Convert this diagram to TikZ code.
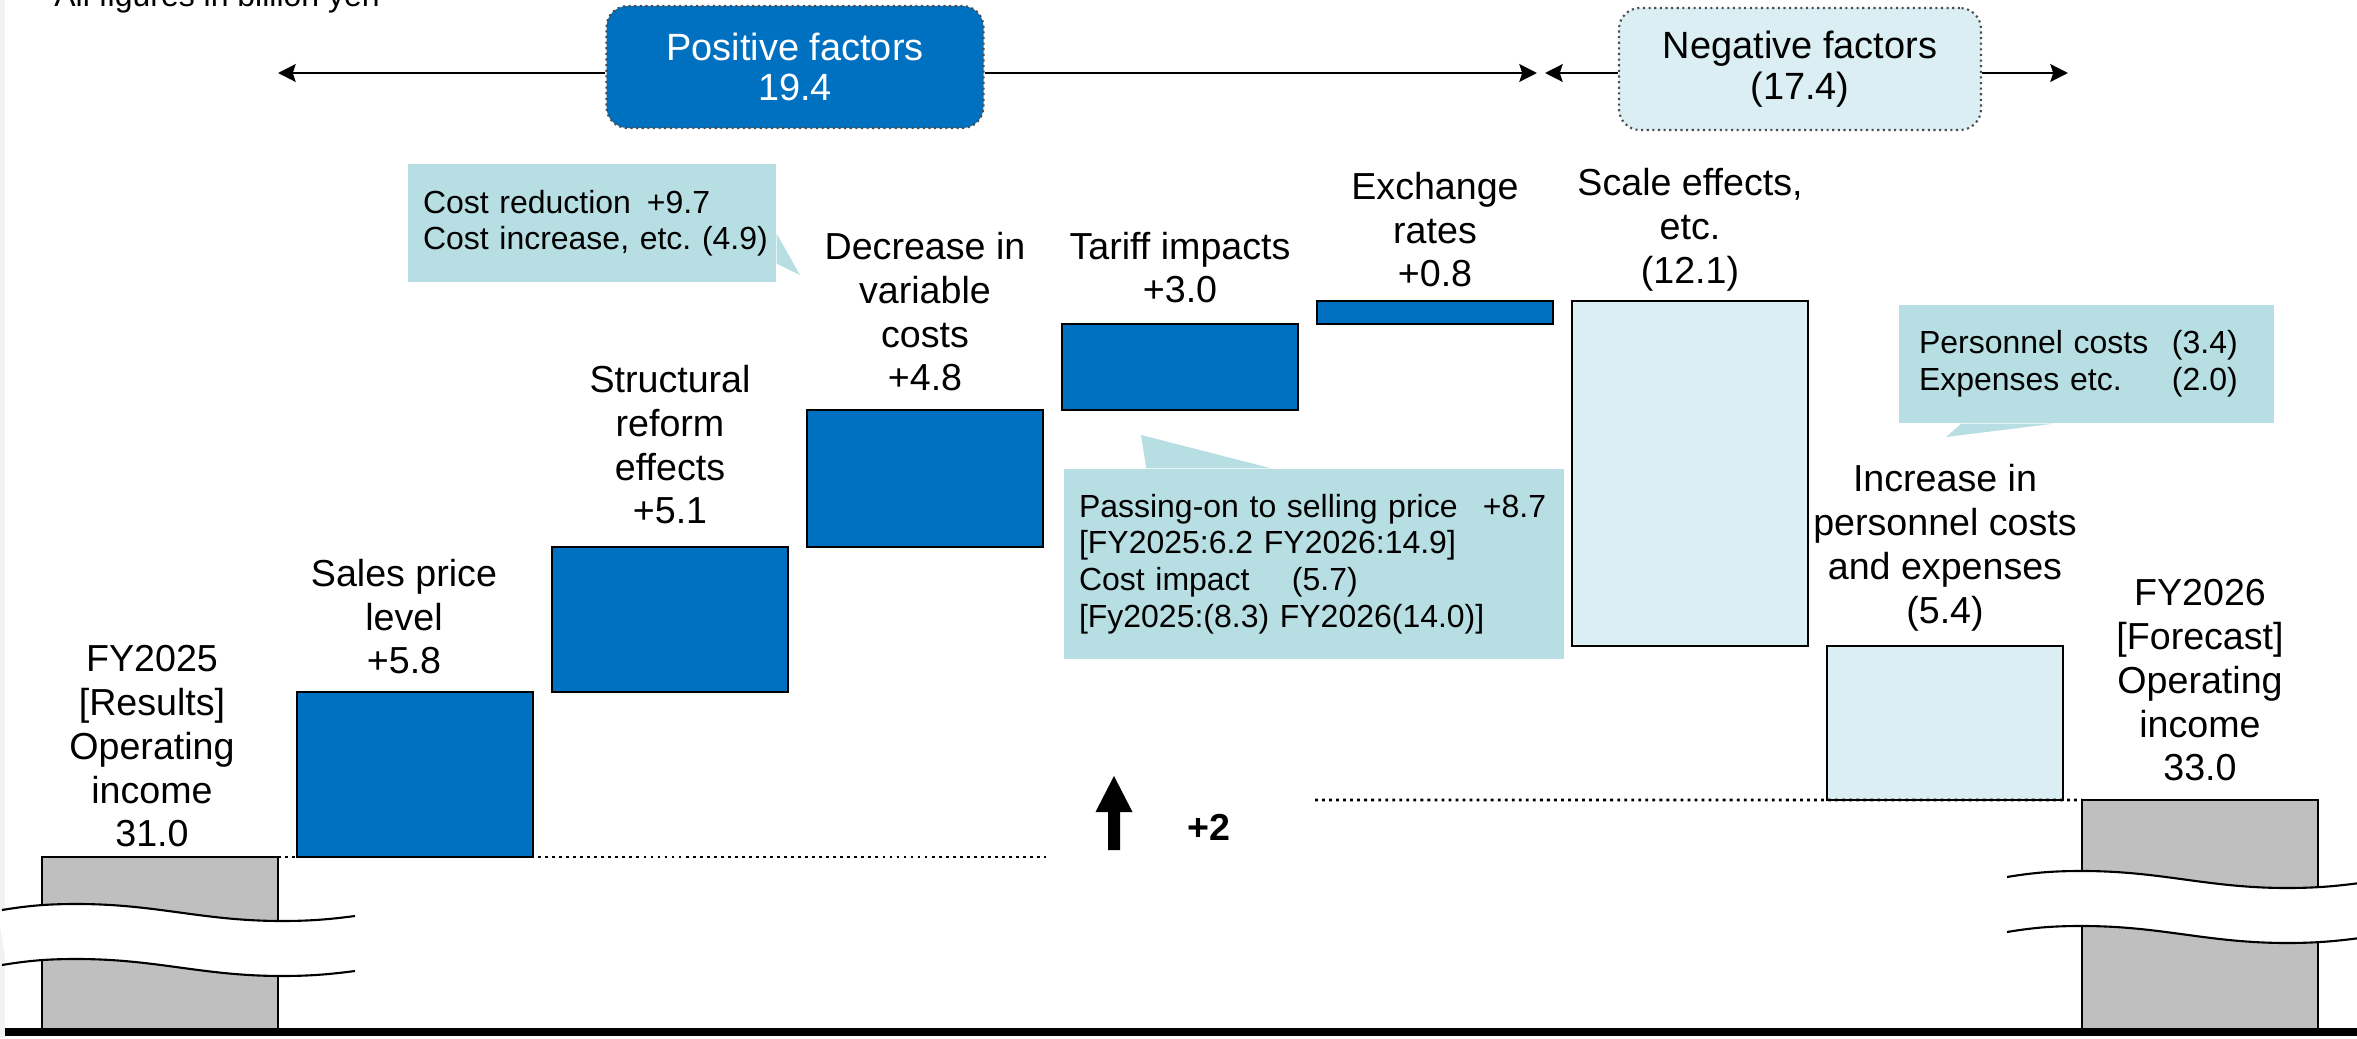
\documentclass[tikz,border=0pt]{standalone}
\usepackage{fontspec}
\setmainfont{Liberation Sans}
\frenchspacing
\usetikzlibrary{arrows.meta,positioning,calc}
\definecolor{BarBlue}{RGB}{0, 112, 192}
\definecolor{PaleBlue}{RGB}{218, 238, 243}
\definecolor{BaseGray}{RGB}{191, 191, 191}
\definecolor{NoteTeal}{RGB}{183, 222, 226}
\definecolor{EdgeGray}{RGB}{242, 242, 242}

% one wavy edge of the axis break, crest at the origin
\newcommand\wavecurve{(-0.75,-0.06) .. controls (-0.45,-0.01) and (-0.25,0) .. (0,0)
  .. controls (0.8,0) and (1.25,-0.17) .. (2.05,-0.17)
  .. controls (2.35,-0.17) and (2.55,-0.15) .. (2.78,-0.12)}

\tikzset{
  gapwave/.pic={
    \draw[white, line width=0.55cm, yshift=-0.275cm] \wavecurve;
    \foreach \dy in {0,-0.55}
      \draw[line width=0.6pt, yshift=\dy cm] \wavecurve;
  }
}

\begin{document}
\begin{tikzpicture}[
    wfbar/.style={draw=black, line width=0.8pt, outer sep=0pt, inner sep=0pt, minimum width=2.36cm},
    posbar/.style={wfbar, fill=BarBlue},
    negbar/.style={wfbar, fill=PaleBlue},
    basebar/.style={wfbar, fill=BaseGray},
    lbl/.style={align=center, inner sep=0pt, font=\fontsize{10.7}{12.5}\selectfont},
    notebox/.style={fill=NoteTeal, align=left, inner xsep=0.15cm, inner ysep=0pt, font=\fontsize{9.1}{10.4}\selectfont},
    factorbox/.style={draw=black!70, densely dotted, line width=0.6pt, rounded corners=6pt, align=center, minimum height=1.22cm, font=\fontsize{10.8}{11.6}\selectfont},
    spanarrow/.style={-{Stealth[length=5pt, width=5pt, inset=0.8pt]}, line width=0.8pt},
    levelline/.style={line width=0.8pt, dash pattern=on 0.8pt off 1.2pt}]

  \useasboundingbox (0,0) rectangle (23.57,10.38);
  \fill[EdgeGray] (0,0) rectangle (0.05,10.38);

  \node[anchor=base west, font=\fontsize{9.1}{10.9}\selectfont] (unit) at (0.42,10.31) {All figures in billion yen};

  % factor totals
  \node[factorbox, fill=BarBlue, text=white, minimum width=3.77cm] (posfac) at (7.95,9.71) {Positive factors\\19.4};
  \node[factorbox, fill=PaleBlue, minimum width=3.62cm] (negfac) at (18.00,9.69) {Negative factors\\(17.4)};

  \coordinate (posL) at (2.78,9.65);
  \coordinate (posR) at (15.37,9.65);
  \coordinate (negL) at (15.45,9.65);
  \coordinate (negR) at (20.68,9.65);
  \draw[spanarrow] (posfac.west |- posL) -- (posL);
  \draw[spanarrow] (posfac.east |- posR) -- (posR);
  \draw[spanarrow] (negfac.west |- negL) -- (negL);
  \draw[spanarrow] (negfac.east |- negR) -- (negR);

  % waterfall bars
  \node[basebar, minimum height=1.72cm, anchor=south west] (fy25) at (0.42,0.09) {};
  \node[posbar, minimum height=1.65cm, anchor=south west] (sales) at ([xshift=0.19cm]fy25.north east) {};
  \node[posbar, minimum height=1.45cm, anchor=south west] (reform) at ([xshift=0.19cm]sales.north east) {};
  \node[posbar, minimum height=1.37cm, anchor=south west] (varcost) at ([xshift=0.19cm]reform.north east) {};
  \node[posbar, minimum height=0.86cm, anchor=south west] (tariff) at ([xshift=0.19cm]varcost.north east) {};
  \node[posbar, minimum height=0.23cm, anchor=south west] (fx) at ([xshift=0.19cm]tariff.north east) {};
  \node[negbar, minimum height=3.45cm, anchor=north west] (scale) at ([xshift=0.19cm]fx.north east) {};
  \node[negbar, minimum height=1.54cm, anchor=north west] (staff) at ([xshift=0.19cm]scale.south east) {};
  \node[basebar, minimum height=2.29cm, anchor=north west] (fy26) at ([xshift=0.19cm]staff.south east) {};

  \coordinate (lvlA) at (10.46,1.81);
  \coordinate (lvlB) at (13.15,2.38);
  \draw[levelline] (fy25.north east) -- (lvlA);
  \draw[levelline] (lvlB) -- (fy26.north west);

  \pic at (0.77,1.34) {gapwave};
  \pic at (20.82,1.67) {gapwave};
  \draw[line width=2pt] (0.05,0.06) -- (23.57,0.06);

  % bar labels
  \node[lbl, above=0.09cm of fy25, xshift=-0.08cm] (fy25lbl) {FY2025\\{[Results]}\\Operating\\income\\31.0};
  \node[lbl, above=0.17cm of sales, xshift=-0.11cm] (saleslbl) {Sales price\\level\\+5.8};
  \node[lbl, above=0.22cm of reform] (reformlbl) {Structural\\reform\\effects\\+5.1};
  \node[lbl, above=0.18cm of varcost] (varcostlbl) {Decrease in\\variable\\costs\\+4.8};
  \node[lbl, above=0.20cm of tariff] (tarifflbl) {Tariff impacts\\+3.0};
  \node[lbl, above=0.13cm of fx] (fxlbl) {Exchange\\rates\\+0.8};
  \node[lbl, above=0.09cm of scale] (scalelbl) {Scale effects,\\etc.\\(12.1)};
  \node[lbl, above=0.14cm of staff] (stafflbl) {Increase in\\personnel costs\\and expenses\\(5.4)};
  \node[lbl, above=0.18cm of fy26] (fy26lbl) {FY2026\\{[Forecast]}\\Operating\\income\\33.0};

  % breakdown notes
  \node[notebox, text width=3.38cm, minimum height=1.18cm] (costnote) at (5.92,8.15) {\makebox[2.24cm][l]{Cost reduction}+9.7\\\mbox{Cost increase, etc. (4.9)}};
  \coordinate (costtip) at (8.00,7.63);
  \fill[NoteTeal] ($(costnote.south east)+(0,0.19)$) -- (costtip) -- ($(costnote.south east)+(0,0.49)$) -- cycle;

  \node[notebox, text width=4.70cm, minimum height=1.90cm] (passnote) at (13.14,4.74) {\makebox[4.04cm][l]{Passing-on to selling price}+8.7\\{[FY2025:6.2 FY2026:14.9]}\\\makebox[2.13cm][l]{Cost impact}(5.7)\\{[Fy2025:(8.3) FY2026(14.0)]}};
  \coordinate (passtip) at (11.41,6.03);
  \fill[NoteTeal] ($(passnote.north west)+(0.83,0)$) -- (passtip) -- ($(passnote.north west)+(2.08,0)$) -- cycle;

  \node[notebox, inner xsep=0.2cm, text width=3.35cm, minimum height=1.18cm] (staffnote) at (20.865,6.74) {\makebox[2.53cm][l]{Personnel costs}(3.4)\\\makebox[2.53cm][l]{Expenses etc.}(2.0)};
  \coordinate (stafftip) at (19.46,6.01);
  \fill[NoteTeal] ($(staffnote.south west)+(0.63,0)$) -- (stafftip) -- ($(staffnote.south west)+(1.55,0)$) -- cycle;

  % net change marker
  \coordinate (upbase) at (11.14,1.88);
  \fill (upbase) ++(-0.06,0) -- ++(0,0.38) -- ++(-0.125,0) -- ++(0.185,0.36) -- ++(0.185,-0.36) -- ++(-0.125,0) -- ++(0,-0.38) -- cycle;
  \node[lbl, font=\fontsize{10.7}{12.5}\selectfont\bfseries] (gain) at (12.09,2.11) {+2};
\end{tikzpicture}
\end{document}
